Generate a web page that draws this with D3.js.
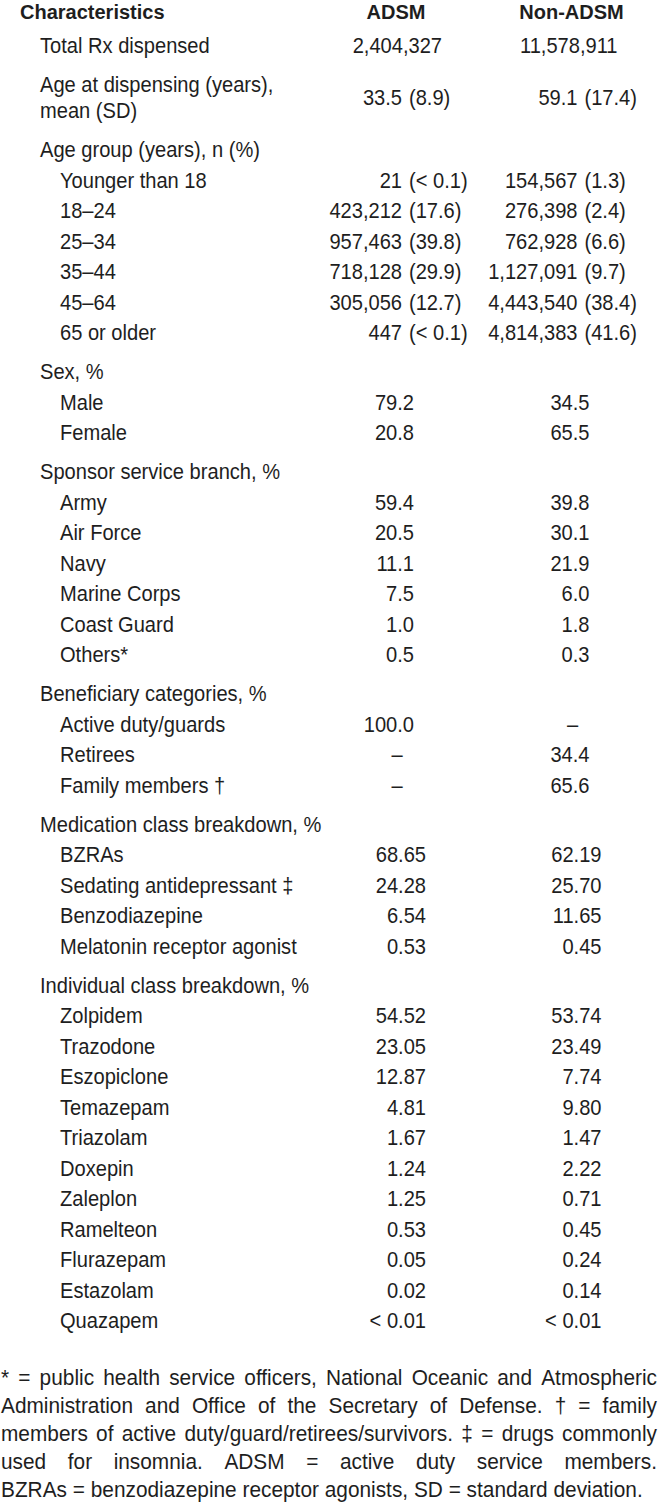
<!DOCTYPE html>
<html>
<head>
<meta charset="utf-8">
<script src="https://cdn.jsdelivr.net/npm/d3@7"></script>
<style>
  body { margin: 0; background: #fff; }
  svg text { font-family: "Liberation Sans", Arial, sans-serif; fill: #1e1e1e; }
</style>
</head>
<body>
<script>
// column headers
const columns = ["ADSM", "Non-ADSM"];

const totalRx = ["2,404,327", "11,578,911"];
const ageMean = ["33.5 (8.9)", "59.1 (17.4)"];

const ageGroups = ["Younger than 18", "18–24", "25–34", "35–44", "45–64", "65 or older"];
const ageADSM = ["21 (< 0.1)", "423,212 (17.6)", "957,463 (39.8)", "718,128 (29.9)", "305,056 (12.7)", "447 (< 0.1)"];
const ageNonADSM = ["154,567 (1.3)", "276,398 (2.4)", "762,928 (6.6)", "1,127,091 (9.7)", "4,443,540 (38.4)", "4,814,383 (41.6)"];

const sexes = ["Male", "Female"];
const sexADSM = ["79.2", "20.8"];
const sexNonADSM = ["34.5", "65.5"];

const branches = ["Army", "Air Force", "Navy", "Marine Corps", "Coast Guard", "Others*"];
const branchADSM = ["59.4", "20.5", "11.1", "7.5", "1.0", "0.5"];
const branchNonADSM = ["39.8", "30.1", "21.9", "6.0", "1.8", "0.3"];

const beneficiaries = ["Active duty/guards", "Retirees", "Family members †"];
const benADSM = ["100.0", "–", "–"];
const benNonADSM = ["–", "34.4", "65.6"];

const medClasses = ["BZRAs", "Sedating antidepressant ‡", "Benzodiazepine", "Melatonin receptor agonist"];
const medADSM = ["68.65", "24.28", "6.54", "0.53"];
const medNonADSM = ["62.19", "25.70", "11.65", "0.45"];

const drugs = ["Zolpidem", "Trazodone", "Eszopiclone", "Temazepam", "Triazolam", "Doxepin", "Zaleplon", "Ramelteon", "Flurazepam", "Estazolam", "Quazapem"];
const drugADSM = ["54.52", "23.05", "12.87", "4.81", "1.67", "1.24", "1.25", "0.53", "0.05", "0.02", "< 0.01"];
const drugNonADSM = ["53.74", "23.49", "7.74", "9.80", "1.47", "2.22", "0.71", "0.45", "0.24", "0.14", "< 0.01"];

const footnoteLines = [
  "* = public health service officers, National Oceanic and Atmospheric",
  "Administration and Office of the Secretary of Defense. † = family",
  "members of active duty/guard/retirees/survivors. ‡ = drugs commonly",
  "used for insomnia. ADSM = active duty service members.",
  "BZRAs = benzodiazepine receptor agonists, SD = standard deviation."
];

const width = 659, height = 1502;
// the print uses a slightly tall, narrow Arial: bigger size squeezed sideways
const fontSize = 21.5, squeeze = 0.935, noteSqueeze = 0.97;

const svg = d3.select("body").append("svg")
  .attr("width", width)
  .attr("height", height);

function put(sel, x, y, str, anchor, sx) {
  return sel.append("text")
    .attr("transform", "translate(" + x + "," + y + ") scale(" + (sx || squeeze) + ",1)")
    .attr("text-anchor", anchor || "start")
    .attr("font-size", fontSize)
    .text(str);
}

// build the row list: each row gets a position in "row units"
const sections = [
  {title: "Total Rx dispensed", values: [totalRx], fmt: "total"},
  {title: ["Age at dispensing (years),", "mean (SD)"], values: [ageMean], fmt: "split"},
  {title: "Age group (years), n (%)", labels: ageGroups, values: [ageADSM, ageNonADSM], fmt: "split"},
  {title: "Sex, %", labels: sexes, values: [sexADSM, sexNonADSM], fmt: "pct"},
  {title: "Sponsor service branch, %", labels: branches, values: [branchADSM, branchNonADSM], fmt: "pct"},
  {title: "Beneficiary categories, %", labels: beneficiaries, values: [benADSM, benNonADSM], fmt: "pct"},
  {title: "Medication class breakdown, %", labels: medClasses, values: [medADSM, medNonADSM], fmt: "dec"},
  {title: "Individual class breakdown, %", labels: drugs, values: [drugADSM, drugNonADSM], fmt: "dec"}
];

const groupGap = 1.279, wrapStep = 0.875;
let rows = [];
let u = 0;
sections.forEach((s, si) => {
  if (si > 0) u += groupGap;
  const titleLines = Array.isArray(s.title) ? s.title : [s.title];
  let row = {label: titleLines, level: 1, u: u, fmt: s.fmt};
  if (!s.labels) {
    // values sit on the title row
    row.vals = [s.values[0][0], s.values[0][1]];
  }
  rows.push(row);
  u += (titleLines.length - 1) * wrapStep;
  if (s.labels) {
    s.labels.forEach((lab, i) => {
      u += 1;
      rows.push({label: [lab], level: 2, u: u, fmt: s.fmt, vals: [s.values[0][i], s.values[1][i]]});
    });
  }
});

const y = d3.scaleLinear().domain([0, 1]).range([52.7, 83.2]);
const x = d3.scalePoint().domain(columns).range([396, 571.5]);
const indent = d3.scaleOrdinal().domain([1, 2]).range([40, 60]);

// offsets from the column centre for each number format
const offsets = {total: 46, pct: 18, dec: 30, splitN: 6, splitP: 13, dash: 1};

// header (kept a touch smaller so it clears the top edge)
const header = svg.append("g").attr("class", "header").attr("font-weight", "bold");
put(header, 20, 18.5, "Characteristics", "start", 1).attr("font-size", 20);
columns.forEach((c) => put(header, x(c), 18.5, c, "middle", 1).attr("font-size", 20));

const rowG = svg.append("g").selectAll("g.row")
  .data(rows)
  .enter().append("g")
    .attr("class", "row")
    .attr("transform", (d) => "translate(0," + y(d.u) + ")");

const lineGap = y(wrapStep) - y(0);

rowG.each(function (d) {
  const g = d3.select(this);
  d.label.forEach((t, i) => put(g, indent(d.level), i * lineGap, t));
  if (!d.vals) return;
  const valY = d.label.length > 1 ? lineGap / 2 : 0;
  columns.forEach((col, ci) => {
    const v = d.vals[ci];
    const cx = x(col);
    if (v === "–") {
      put(g, cx + offsets.dash, valY, v, "middle");
    } else if (d.fmt === "split") {
      const k = v.indexOf(" (");
      put(g, cx + offsets.splitN, valY, v.slice(0, k), "end");
      put(g, cx + offsets.splitP, valY, v.slice(k + 1), "start");
    } else {
      put(g, cx + offsets[d.fmt], valY, v, "end");
    }
  });
});

// footnote, justified like the printed table
const noteLeft = 1, noteRight = 657, noteTop = 1385, noteStep = 28;
const note = svg.append("g").attr("class", "footnote");
footnoteLines.forEach((line, li) => {
  const words = line.split(" ");
  const yy = noteTop + li * noteStep;
  const nodes = words.map((w) => put(note, 0, yy, w, "start", noteSqueeze));
  const widths = nodes.map((n) => n.node().getComputedTextLength() * noteSqueeze);
  const total = d3.sum(widths);
  const last = li === footnoteLines.length - 1;
  const space = last ? fontSize * 0.278 * noteSqueeze : (noteRight - noteLeft - total) / (words.length - 1);
  let cx = noteLeft;
  nodes.forEach((n, i) => {
    n.attr("transform", "translate(" + cx + "," + yy + ") scale(" + noteSqueeze + ",1)");
    cx += widths[i] + space;
  });
});
</script>
</body>
</html>
